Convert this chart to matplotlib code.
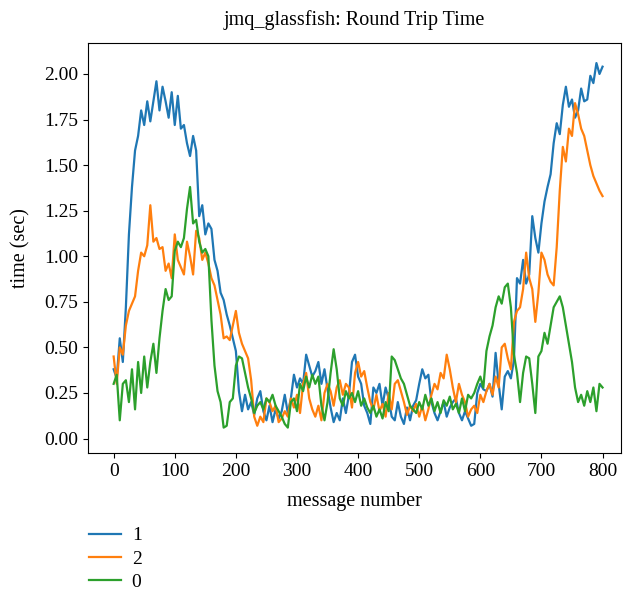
import numpy as np
import matplotlib
matplotlib.use('Agg')
import matplotlib.pyplot as plt
from matplotlib.ticker import FormatStrFormatter

plt.rcParams['font.family'] = ['Liberation Serif', 'DejaVu Serif']
plt.rcParams['font.size'] = 14

# message numbers, every 5th message
msg = np.arange(0, 801, 5)

rtt_1 = [0.38, 0.33, 0.55, 0.42, 0.72, 1.12, 1.38, 1.58, 1.66, 1.80,
         1.72, 1.85, 1.74, 1.85, 1.96, 1.80, 1.93, 1.85, 1.76, 1.90,
         1.72, 1.88, 1.70, 1.72, 1.62, 1.55, 1.66, 1.58, 1.22, 1.28,
         1.12, 1.18, 1.15, 0.98, 0.92, 0.80, 0.76, 0.68, 0.62, 0.55,
         0.48, 0.26, 0.15, 0.24, 0.16, 0.20, 0.13, 0.22, 0.26, 0.15,
         0.10, 0.18, 0.09, 0.16, 0.11, 0.15, 0.24, 0.14, 0.22, 0.35,
         0.28, 0.33, 0.30, 0.46, 0.40, 0.34, 0.37, 0.42, 0.30, 0.38,
         0.27, 0.17, 0.09, 0.14, 0.10, 0.22, 0.14, 0.24, 0.42, 0.46,
         0.34, 0.30, 0.18, 0.14, 0.08, 0.28, 0.25, 0.30, 0.18, 0.28,
         0.22, 0.12, 0.10, 0.20, 0.12, 0.08, 0.17, 0.10, 0.18, 0.21,
         0.30, 0.38, 0.33, 0.35, 0.20, 0.14, 0.10, 0.15, 0.20, 0.12,
         0.17, 0.20, 0.22, 0.14, 0.10, 0.15, 0.11, 0.07, 0.08, 0.25,
         0.30, 0.27, 0.26, 0.30, 0.23, 0.47, 0.30, 0.16, 0.34, 0.37,
         0.33, 0.43, 0.88, 0.85, 0.98, 0.85, 0.90, 1.22, 1.10, 1.02,
         1.18, 1.30, 1.38, 1.45, 1.62, 1.73, 1.67, 1.83, 1.93, 1.82,
         1.86, 1.76, 1.80, 1.92, 1.85, 1.86, 1.99, 1.95, 2.06, 2.00,
         2.04]

rtt_2 = [0.45, 0.30, 0.50, 0.46, 0.62, 0.70, 0.74, 0.78, 0.92, 1.02,
         1.00, 1.06, 1.28, 1.08, 1.10, 1.04, 1.05, 0.92, 0.96, 0.88,
         1.12, 0.98, 0.94, 0.90, 1.08, 1.00, 0.90, 1.14, 1.10, 0.98,
         1.02, 0.96, 0.88, 0.84, 0.76, 0.68, 0.55, 0.56, 0.54, 0.62,
         0.70, 0.58, 0.52, 0.48, 0.44, 0.32, 0.12, 0.07, 0.12, 0.09,
         0.22, 0.20, 0.15, 0.18, 0.09, 0.11, 0.15, 0.12, 0.22, 0.17,
         0.24, 0.14, 0.30, 0.36, 0.22, 0.16, 0.12, 0.18, 0.10, 0.25,
         0.30, 0.26, 0.18, 0.28, 0.32, 0.24, 0.30, 0.28, 0.17, 0.36,
         0.42, 0.34, 0.37, 0.28, 0.20, 0.16, 0.24, 0.15, 0.19, 0.12,
         0.25, 0.16, 0.30, 0.32, 0.26, 0.20, 0.13, 0.18, 0.15, 0.19,
         0.12, 0.18, 0.10, 0.16, 0.24, 0.30, 0.27, 0.36, 0.33, 0.46,
         0.38, 0.28, 0.20, 0.30, 0.24, 0.20, 0.12, 0.16, 0.18, 0.14,
         0.24, 0.20, 0.26, 0.30, 0.24, 0.34, 0.28, 0.50, 0.52, 0.44,
         0.38, 0.64, 0.70, 0.72, 0.82, 1.02, 0.88, 0.82, 0.64, 0.80,
         1.02, 0.98, 0.90, 0.86, 0.84, 1.05, 1.36, 1.60, 1.52, 1.70,
         1.66, 1.84, 1.78, 1.70, 1.66, 1.58, 1.50, 1.44, 1.40, 1.36,
         1.33]

rtt_0 = [0.30, 0.35, 0.10, 0.30, 0.32, 0.20, 0.38, 0.16, 0.42, 0.25,
         0.45, 0.28, 0.42, 0.52, 0.36, 0.55, 0.70, 0.82, 0.76, 0.78,
         1.03, 1.08, 1.05, 1.10, 1.26, 1.38, 1.18, 1.20, 1.08, 1.02,
         1.04, 1.00, 0.65, 0.40, 0.26, 0.20, 0.06, 0.07, 0.20, 0.22,
         0.40, 0.45, 0.44, 0.36, 0.28, 0.22, 0.14, 0.18, 0.20, 0.16,
         0.22, 0.20, 0.24, 0.18, 0.15, 0.12, 0.08, 0.06, 0.20, 0.22,
         0.15, 0.30, 0.26, 0.34, 0.28, 0.35, 0.30, 0.34, 0.18, 0.10,
         0.20, 0.36, 0.49, 0.38, 0.22, 0.18, 0.26, 0.22, 0.25, 0.20,
         0.26, 0.18, 0.22, 0.17, 0.14, 0.18, 0.12, 0.16, 0.11, 0.20,
         0.15, 0.45, 0.43, 0.38, 0.33, 0.30, 0.24, 0.18, 0.16, 0.14,
         0.20, 0.16, 0.24, 0.18, 0.22, 0.15, 0.20, 0.14, 0.21, 0.18,
         0.23, 0.16, 0.19, 0.14, 0.22, 0.15, 0.24, 0.22, 0.25, 0.30,
         0.34, 0.28, 0.48, 0.56, 0.62, 0.72, 0.78, 0.74, 0.83, 0.85,
         0.72, 0.46, 0.36, 0.20, 0.36, 0.45, 0.44, 0.30, 0.14, 0.45,
         0.48, 0.58, 0.52, 0.62, 0.72, 0.75, 0.78, 0.72, 0.62, 0.52,
         0.42, 0.28, 0.20, 0.24, 0.18, 0.26, 0.20, 0.28, 0.15, 0.30,
         0.28]

fig = plt.figure(figsize=(6.24, 5.97), dpi=100)
ax = fig.add_axes([0.141, 0.241, 0.854, 0.687])

ax.plot(msg, rtt_1, color='#1f77b4', lw=1.6, label='1')
ax.plot(msg, rtt_2, color='#ff7f0e', lw=1.6, label='2')
ax.plot(msg, rtt_0, color='#2ca02c', lw=1.6, label='0')

ax.set_xlim(-42, 830)
ax.set_ylim(-0.08, 2.17)
ax.set_xticks(range(0, 801, 100))
ax.set_yticks(np.arange(0, 2.01, 0.25))
ax.yaxis.set_major_formatter(FormatStrFormatter('%.2f'))

ax.set_title('jmq_glassfish: Round Trip Time', fontsize=14.5, pad=13)
ax.set_xlabel('message number', fontsize=14.5, labelpad=9)
ax.set_ylabel('time (sec)', fontsize=14.5, labelpad=10)

fig.legend(loc='upper left', bbox_to_anchor=(0.127, 0.134), frameon=False,
           handlelength=1.65, labelspacing=0.3, borderpad=0, handletextpad=0.55)

plt.savefig('out.png', dpi=100)
